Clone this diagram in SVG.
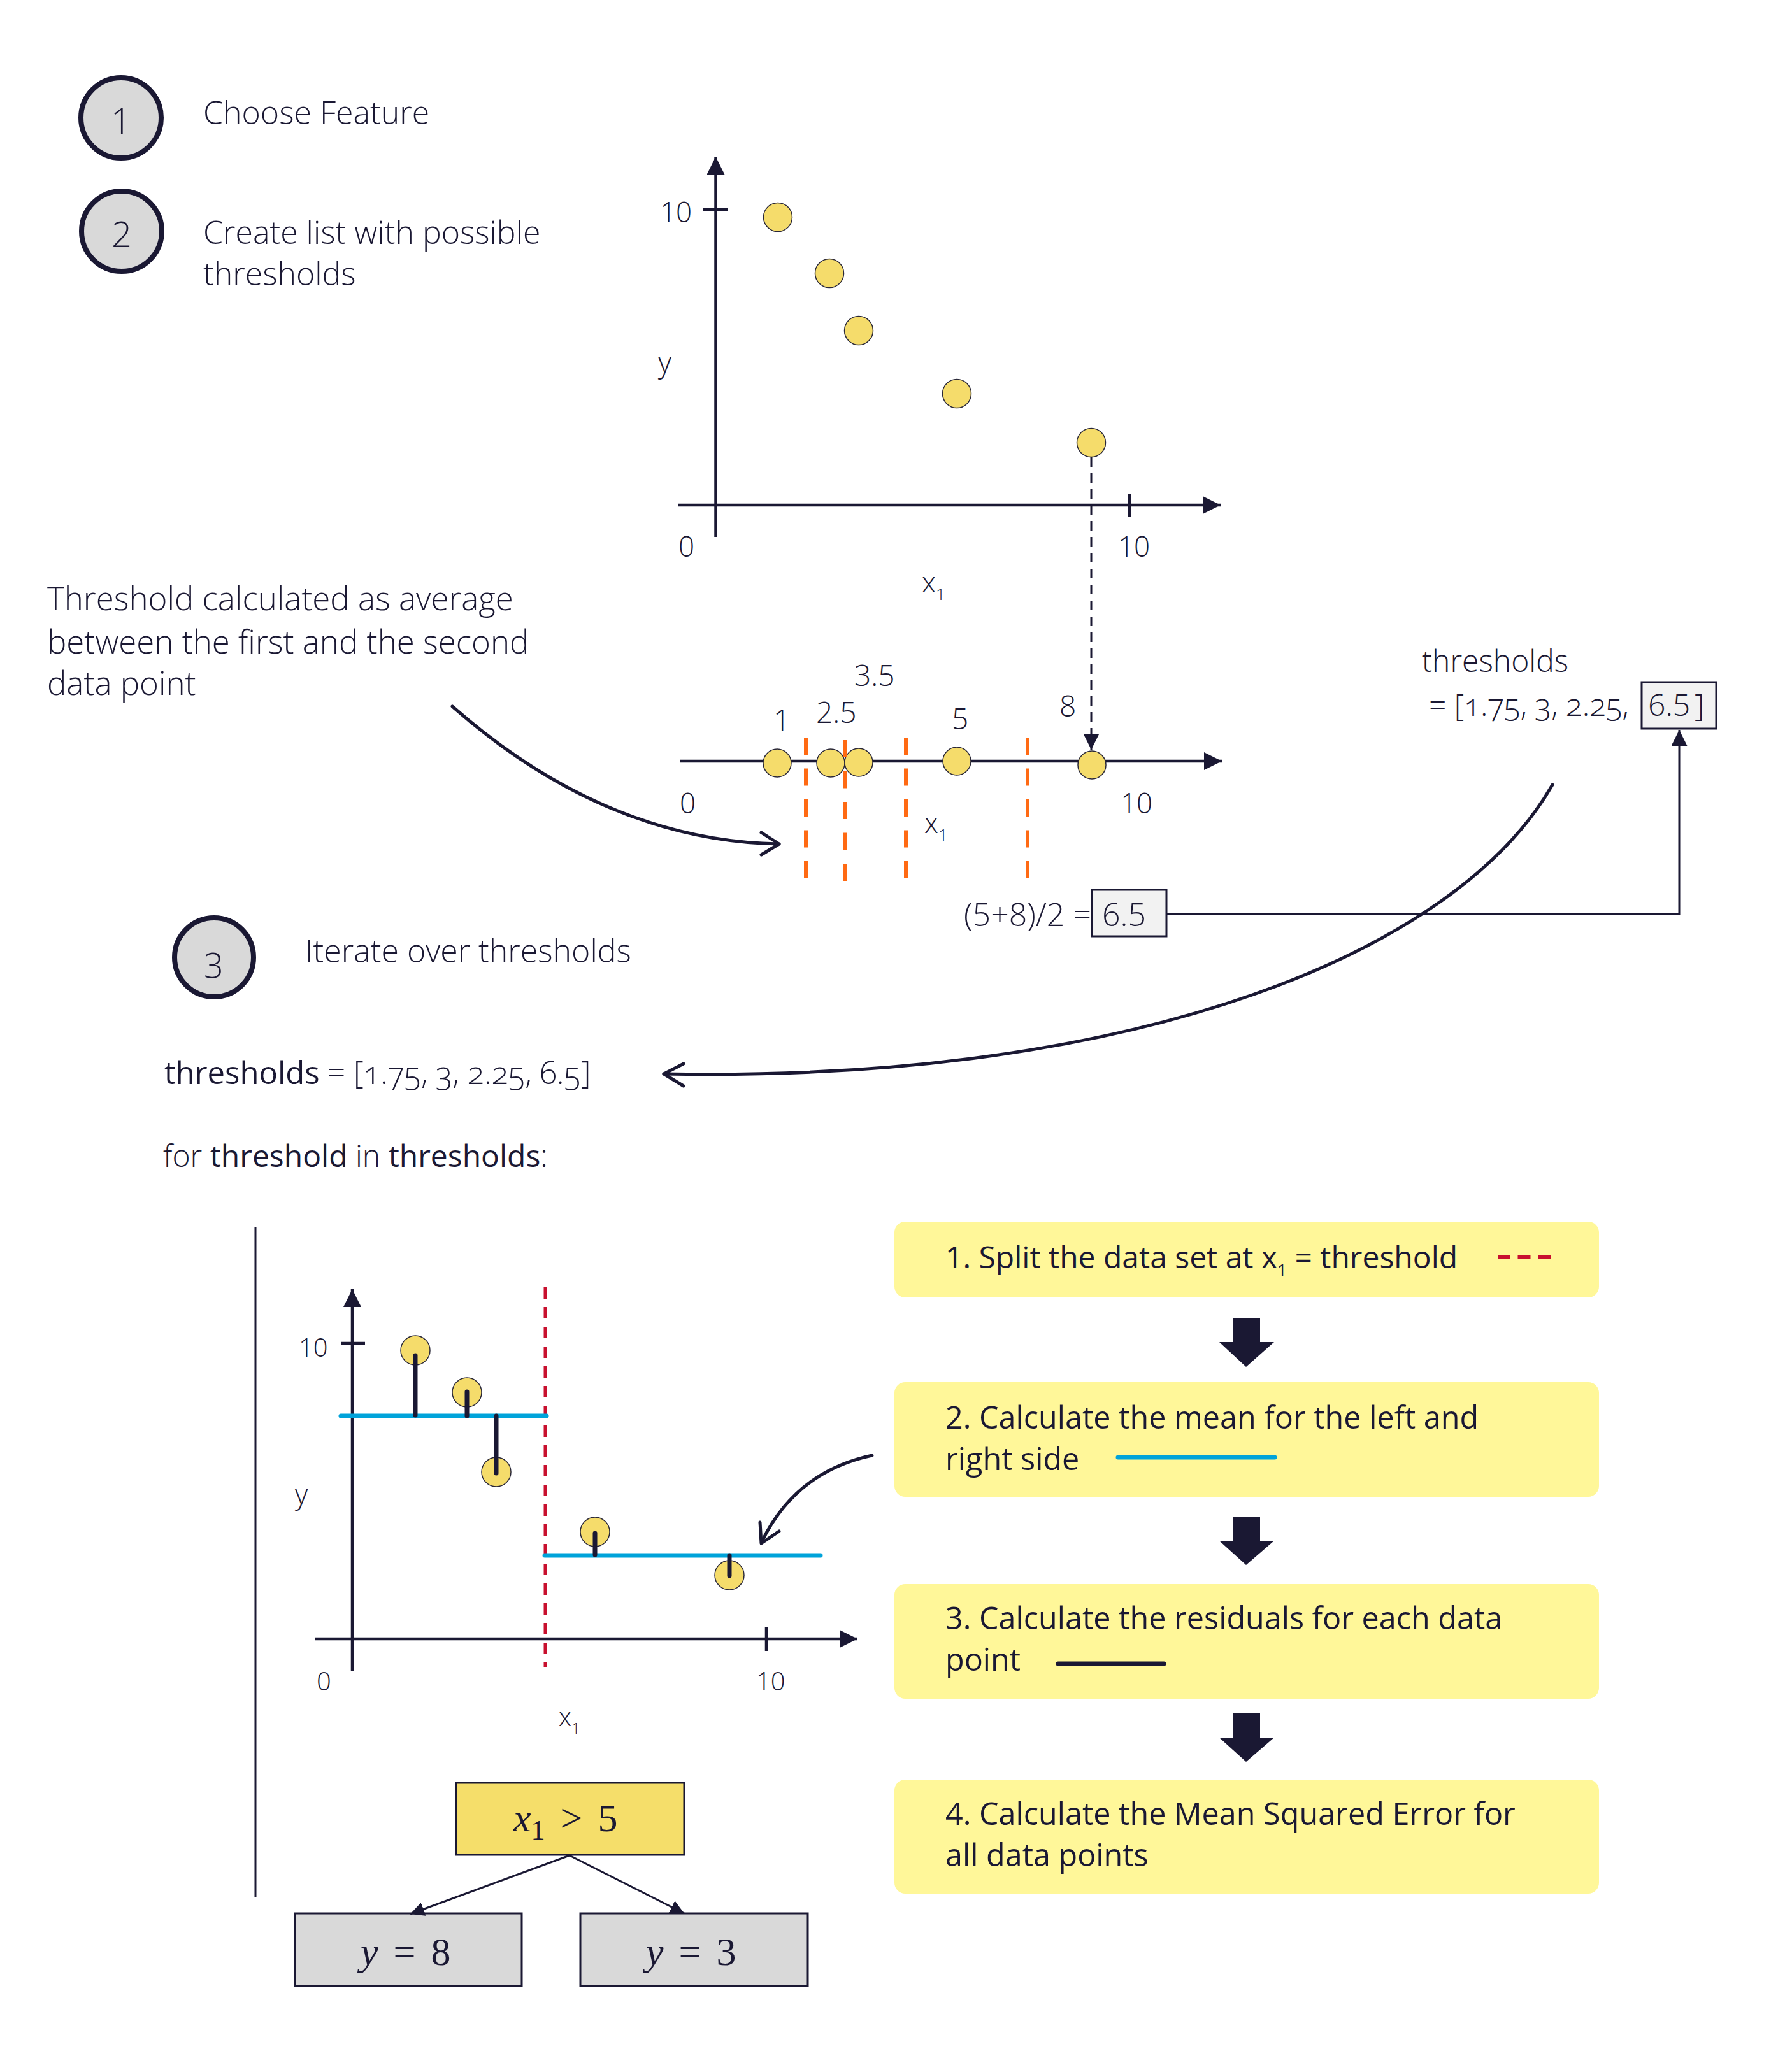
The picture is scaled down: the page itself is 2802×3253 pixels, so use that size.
<svg xmlns="http://www.w3.org/2000/svg" width="2802" height="3253" viewBox="0 0 2802 3253">
<style>
.lt{font-family:'Open Sans','Liberation Sans',sans-serif;font-weight:300;fill:#1a1833}
.rg{font-family:'Open Sans','Liberation Sans',sans-serif;font-weight:400;fill:#1a1833}
.md{font-weight:500}
.on{font-variant-numeric:oldstyle-nums}
.mt{font-family:'Liberation Serif','DejaVu Serif',serif;fill:#1a1833}
.ax{stroke:#1a1833;stroke-width:4.5;fill:none}
.thin{stroke:#1a1833;stroke-width:3;fill:none}
.pt{fill:#F5DC6B;stroke:#2a2838;stroke-width:1.5}
.or{stroke:#FF6A13;stroke-width:6;stroke-dasharray:27 21.5;fill:none}
.rd{stroke:#C8102E;stroke-width:5;stroke-dasharray:18 13;fill:none}
.bl{stroke:#00A3DA;stroke-width:7;stroke-linecap:round;fill:none}
.rs{stroke:#1a1833;stroke-width:7;stroke-linecap:round;fill:none}
.cv{stroke:#1a1833;stroke-width:5;fill:none;stroke-linecap:round;stroke-linejoin:round}
.circ{fill:#D9D9D9;stroke:#1a1833;stroke-width:8}
.yb{fill:#FFF799}
.blk{fill:#1a1833}
</style>
<defs>
<marker id="ah" viewBox="0 0 10 10" refX="10" refY="5" markerWidth="28" markerHeight="28" markerUnits="userSpaceOnUse" orient="auto"><path d="M0,0L10,5L0,10z" fill="#1a1833"/></marker>
<marker id="ahs" viewBox="0 0 10 10" refX="10" refY="5" markerWidth="25" markerHeight="25" markerUnits="userSpaceOnUse" orient="auto"><path d="M0,0L10,5L0,10z" fill="#1a1833"/></marker>
<marker id="aht" viewBox="0 0 10 10" refX="10" refY="5" markerWidth="22" markerHeight="22" markerUnits="userSpaceOnUse" orient="auto"><path d="M0,0L10,5L0,10z" fill="#1a1833"/></marker>
</defs>
<rect width="2802" height="3253" fill="#ffffff"/>

<!-- Steps -->
<g id="step1">
<circle class="circ" cx="190" cy="185" r="63"/>
<text class="lt" x="190" y="210" font-size="56" text-anchor="middle">1</text>
<text class="lt" x="319" y="195" font-size="50">Choose Feature</text>
</g>
<g id="step2">
<circle class="circ" cx="191" cy="363" r="63"/>
<text class="lt" x="191" y="388" font-size="56" text-anchor="middle">2</text>
<text class="lt" x="319" y="383" font-size="50">Create list with possible</text>
<text class="lt" x="319" y="448" font-size="50">thresholds</text>
</g>
<g id="step3">
<circle class="circ" cx="336" cy="1503" r="62"/>
<text class="lt on" x="336" y="1525" font-size="56" text-anchor="middle">3</text>
<text class="lt" x="479" y="1511" font-size="50">Iterate over thresholds</text>
</g>

<!-- Top scatter plot -->
<g id="scatter-top">
<line class="ax" x1="1123.5" y1="843" x2="1123.5" y2="246" marker-end="url(#ah)"/>
<line class="ax" x1="1065" y1="793" x2="1916" y2="793" marker-end="url(#ah)"/>
<line class="ax" x1="1103" y1="329" x2="1143" y2="329"/>
<line class="ax" x1="1773" y1="775" x2="1773" y2="812"/>
<text class="lt" x="1036" y="349" font-size="44">10</text>
<text class="lt" x="1033" y="585" font-size="46">y</text>
<text class="lt" x="1065" y="874" font-size="44">0</text>
<text class="lt" x="1755" y="874" font-size="44">10</text>
<text class="lt" x="1447" y="930" font-size="44">x<tspan font-size="26" dy="12">1</tspan></text>
<circle class="pt" cx="1221" cy="341" r="22.5"/>
<circle class="pt" cx="1302" cy="429" r="22.5"/>
<circle class="pt" cx="1348" cy="519" r="22.5"/>
<circle class="pt" cx="1502" cy="618" r="22.5"/>
<circle class="pt" cx="1713" cy="695" r="22.5"/>
</g>

<!-- Number line -->
<g id="number-line">
<line class="ax" x1="1067" y1="1195" x2="1918" y2="1195" marker-end="url(#ah)"/>
<circle class="pt" cx="1220" cy="1198" r="22"/>
<circle class="pt" cx="1304" cy="1198" r="22"/>
<circle class="pt" cx="1348" cy="1197" r="22"/>
<circle class="pt" cx="1502" cy="1195" r="22"/>
<circle class="pt" cx="1714" cy="1201" r="22"/>
<line class="or" x1="1265" y1="1158" x2="1265" y2="1380"/>
<line class="or" x1="1326" y1="1162" x2="1326" y2="1384"/>
<line class="or" x1="1422" y1="1158" x2="1422" y2="1380"/>
<line class="or" x1="1613" y1="1158" x2="1613" y2="1380"/>
<text class="lt" x="1214" y="1147" font-size="46">1</text>
<text class="lt" x="1281" y="1135" font-size="46">2.5</text>
<text class="lt" x="1341" y="1077" font-size="46">3.5</text>
<text class="lt" x="1494" y="1145" font-size="46">5</text>
<text class="lt" x="1663" y="1125" font-size="46">8</text>
<text class="lt" x="1067" y="1277" font-size="44">0</text>
<text class="lt" x="1759" y="1277" font-size="44">10</text>
<text class="lt" x="1451" y="1308" font-size="44">x<tspan font-size="26" dy="12">1</tspan></text>
</g>

<!-- Annotation text -->
<g id="note-average">
<text class="lt" x="74" y="958" font-size="51">Threshold calculated as average</text>
<text class="lt" x="74" y="1026" font-size="51">between the first and the second</text>
<text class="lt" x="74" y="1091" font-size="51">data point</text>
</g>

<g id="calc-65">
<text class="lt" x="1513" y="1454" font-size="50">(5+8)/2 =</text>
<rect x="1714" y="1397" width="117" height="73" fill="#F2F2F2" stroke="#1a1833" stroke-width="3"/>
<text class="lt" x="1730" y="1454" font-size="50">6.5</text>
</g>

<g id="thresholds-list-top">
<text class="lt" x="2232" y="1055" font-size="48">thresholds</text>
<text class="lt on" x="2243" y="1124" font-size="48">= [1.75, 3, 2.25,</text>
<rect x="2577" y="1071" width="117" height="73" fill="#F2F2F2" stroke="#1a1833" stroke-width="3"/>
<text class="lt" x="2587" y="1124" font-size="48">6.5</text>
<text class="lt" x="2660" y="1124" font-size="48">]</text>
</g>

<g id="code">
<text class="lt on" x="258" y="1702" font-size="49"><tspan class="md">thresholds</tspan> = [1.75, 3, 2.25, 6.5]</text>
<text class="lt" x="256" y="1832" font-size="48">for <tspan class="md">threshold</tspan> in <tspan class="md">thresholds</tspan>:</text>
</g>

<!-- Bottom plot -->
<g id="split-plot">
<line class="thin" x1="401" y1="1926" x2="401" y2="2978"/>
<line class="ax" x1="553" y1="2623" x2="553" y2="2024" marker-end="url(#ah)"/>
<line class="ax" x1="495" y1="2573" x2="1346" y2="2573" marker-end="url(#ah)"/>
<line class="ax" x1="535" y1="2109" x2="573" y2="2109"/>
<line class="ax" x1="1203" y1="2554" x2="1203" y2="2592"/>
<text class="lt" x="469" y="2130" font-size="40">10</text>
<text class="lt" x="463" y="2362" font-size="44">y</text>
<text class="lt" x="497" y="2654" font-size="40">0</text>
<text class="lt" x="1187" y="2654" font-size="40">10</text>
<text class="lt" x="877" y="2710" font-size="40">x<tspan font-size="24" dy="12">1</tspan></text>
<line class="rd" x1="856" y1="2021" x2="856" y2="2617"/>
<circle class="pt" cx="652" cy="2120" r="23"/>
<circle class="pt" cx="733" cy="2186" r="23"/>
<circle class="pt" cx="779" cy="2311" r="23"/>
<circle class="pt" cx="934" cy="2405" r="23"/>
<circle class="pt" cx="1145" cy="2473" r="23"/>
<line class="bl" x1="535" y1="2223" x2="858" y2="2223"/>
<line class="bl" x1="855" y1="2442" x2="1288" y2="2442"/>
<line class="rs" x1="652" y1="2128" x2="652" y2="2222"/>
<line class="rs" x1="733" y1="2185" x2="733" y2="2223"/>
<line class="rs" x1="779" y1="2223" x2="779" y2="2313"/>
<line class="rs" x1="934" y1="2407" x2="934" y2="2441"/>
<line class="rs" x1="1145" y1="2442" x2="1145" y2="2474"/>
</g>

<!-- Steps boxes -->
<g id="box1">
<rect class="yb" x="1404" y="1918" width="1106" height="119" rx="17"/>
<text class="rg" x="1484" y="1991" font-size="48">1. Split the data set at x<tspan font-size="26" dy="12">1</tspan><tspan dy="-12"> = threshold</tspan></text>
<line x1="2351" y1="1974" x2="2434" y2="1974" stroke="#C8102E" stroke-width="6" stroke-dasharray="20 11.5"/>
</g>
<g id="box2">
<rect class="yb" x="1404" y="2170" width="1106" height="180" rx="17"/>
<text class="rg" x="1484" y="2243" font-size="48.5">2. Calculate the mean for the left and</text>
<text class="rg" x="1484" y="2308" font-size="48.5">right side</text>
<line class="bl" x1="1755" y1="2288" x2="2001" y2="2288" stroke-width="6"/>
</g>
<g id="box3">
<rect class="yb" x="1404" y="2487" width="1106" height="180" rx="17"/>
<text class="rg" x="1484" y="2558" font-size="48.5">3. Calculate the residuals for each data</text>
<text class="rg" x="1484" y="2623" font-size="48.5">point</text>
<line class="rs" x1="1661" y1="2612" x2="1827" y2="2612" stroke-width="6"/>
</g>
<g id="box4">
<rect class="yb" x="1404" y="2794" width="1106" height="179" rx="17"/>
<text class="rg" x="1484" y="2865" font-size="48.5">4. Calculate the Mean Squared Error for</text>
<text class="rg" x="1484" y="2930" font-size="48.5">all data points</text>
</g>

<!-- Tree -->
<g id="tree-root">
<rect x="716" y="2799" width="358" height="113" fill="#F5DE6A" stroke="#1a1833" stroke-width="3"/>
<text class="mt" x="806" y="2875" font-size="62"><tspan font-style="italic">x</tspan><tspan font-size="44" dy="13">1</tspan><tspan dy="-13" dx="24">&gt;</tspan><tspan dx="24">5</tspan></text>
</g>
<g id="tree-left">
<rect x="463" y="3004" width="356" height="114" fill="#D9D9D9" stroke="#1a1833" stroke-width="3"/>
<text class="mt" x="566" y="3085" font-size="62"><tspan font-style="italic">y</tspan><tspan dx="24">=</tspan><tspan dx="24">8</tspan></text>
</g>
<g id="tree-right">
<rect x="911" y="3004" width="357" height="114" fill="#D9D9D9" stroke="#1a1833" stroke-width="3"/>
<text class="mt" x="1014" y="3085" font-size="62"><tspan font-style="italic">y</tspan><tspan dx="24">=</tspan><tspan dx="24">3</tspan></text>
</g>

<!-- Connectors -->
<g id="connectors">
<line x1="1713" y1="718" x2="1713" y2="1177" stroke="#1a1833" stroke-width="3" stroke-dasharray="15 10" marker-end="url(#ahs)"/>
<path class="cv" d="M710,1109 Q950,1320 1223,1325"/>
<path class="cv" d="M1195,1307 L1223,1325 L1195,1342"/>
<path class="thin" d="M1831,1435 L2636,1435 L2636,1146" marker-end="url(#ahs)"/>
<path class="cv" d="M2437,1232 C2290,1490 1800,1700 1042,1686"/>
<path class="cv" d="M1073,1670 L1042,1686 L1073,1705"/>
<path class="cv" d="M1369,2285 Q1250,2310 1196,2420"/>
<path class="cv" d="M1193,2390 L1195,2423 L1223,2404"/>
<polygon class="blk" points="1935,2070 1978,2070 1978,2107 2000,2107 1956,2146 1914,2107 1935,2107"/>
<polygon class="blk" points="1935,2381 1978,2381 1978,2419 2000,2419 1956,2457 1914,2419 1935,2419"/>
<polygon class="blk" points="1935,2690 1978,2690 1978,2728 2000,2728 1956,2766 1914,2728 1935,2728"/>
<line class="thin" x1="894" y1="2913" x2="644" y2="3005" marker-end="url(#aht)"/>
<line class="thin" x1="894" y1="2913" x2="1074" y2="3004" marker-end="url(#aht)"/>
</g>
</svg>
